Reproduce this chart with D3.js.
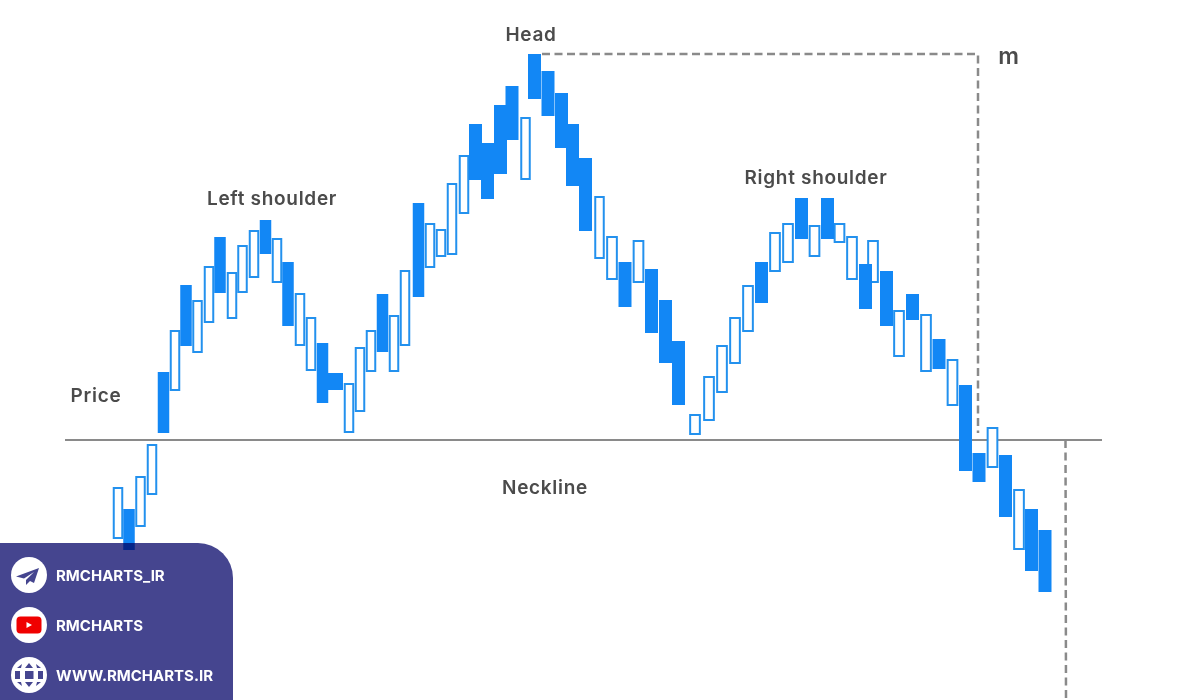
<!DOCTYPE html>
<html>
<head>
<meta charset="utf-8">
<style>
html, body { margin: 0; padding: 0; background: #fff; }
svg { display: block; }
text { font-family: Inter, "Noto Sans", sans-serif; }
</style>
<script src="https://cdn.jsdelivr.net/npm/d3@7"></script>
</head>
<body>
<svg width="1200" height="700"></svg>
<script>
//	DATA, prices are points above the neckline

var sessions = [118, 129, 140.5, 152, 163.5, 175, 186, 197.5, 209, 220, 232, 242.5, 254, 265.5, 277, 288, 300, 311, 322.5, 335.5,
	349, 360, 371, 382.5, 394, 405, 418.5, 430, 441, 452, 464, 475.5, 487.5, 500.5, 512, 525.5, 534.5, 548, 561.5, 572.5,
	585.5, 599.5, 612, 625, 638.5, 651.5, 665.5, 678.5, 695, 709, 722, 735, 748, 761.5, 775, 788, 801.5, 814.5, 827.5, 839.5,
	852, 865.5, 873, 886.5, 899, 912.5, 926, 939, 952.5, 965.5, 979, 992.5, 1005.5, 1019, 1031.5, 1045];

var highs = [-47, -69, -36, -4, 68, 110, 155, 140, 174, 203, 168, 195, 210, 220, 202, 178, 147, 123, 97, 67,
	57, 93, 110, 146, 125, 170, 237, 217, 211, 257, 285, 316, 297, 335, 354, 323, 386, 369, 347, 316,
	282, 244, 204, 178, 200, 171, 140, 99, 26, 64, 95, 123, 155, 178, 208, 217, 242, 215, 242, 217,
	204, 176, 200, 169, 130, 146, 126, 101, 81, 55, -13, 13, -15, -49, -69, -90];

var lows = [-99, -110, -87, -55, 7, 49, 94, 87, 117, 147, 121, 147, 162, 186, 157, 114, 94, 69, 37, 50,
	7, 28, 68, 88, 68, 94, 143, 172, 183, 185, 226, 260, 241, 266, 300, 260, 341, 324, 292, 254,
	209, 181, 160, 133, 157, 107, 77, 35, 5, 19, 47, 76, 108, 137, 168, 177, 201, 183, 201, 197,
	160, 131, 157, 114, 83, 120, 68, 71, 34, -31, -42, -28, -77, -110, -131, -152];

// 1 = filled bar, 0 = hollow bar
var filled = [0, 1, 0, 0, 1, 0, 1, 0, 0, 1, 0, 0, 0, 1, 0, 1, 0, 0, 1, 1,
	0, 0, 0, 1, 0, 0, 1, 0, 0, 0, 0, 1, 1, 1, 1, 0, 1, 1, 1, 1,
	1, 0, 0, 1, 0, 1, 1, 1, 0, 0, 0, 0, 0, 1, 0, 0, 1, 0, 1, 0,
	0, 1, 0, 1, 0, 1, 0, 1, 0, 1, 1, 0, 1, 0, 1, 1];

var necklinePrice = 0;
var headPrice = 386;
var targetSession = 1065.5;

var labels = ["Head", "m", "Left shoulder", "Right shoulder", "Price", "Neckline"];
var labelSessions = [531, 1009, 272, 816, 96, 545];
var labelPrices = [406, 384, 242, 263, 45, -47];

var contacts = ["RMCHARTS_IR", "RMCHARTS", "WWW.RMCHARTS.IR"];

var svg = d3.select("svg");

var x = d3.scaleLinear().domain([0, 1200]).range([0, 1200]);
var y = d3.scaleLinear().domain([-260, 440]).range([700, 0]);

var bars = sessions.map(function(s, i) {
	return { s: s, hi: highs[i], lo: lows[i], solid: filled[i] === 1, i: i };
});

var blue = "#1287f5", gray = "#8a8a8a", ink = "#4b4b4b", panel = "#45458f";

// later bars are drawn a little wider than the early ones
function solidWidth(d) {
	if (d.i === 19) return 15;
	return d.s < 460 ? 11.5 : 13;
}
function hollowWidth(d) {
	return d.s < 600 ? 8.5 : 9.7;
}

//	LINES

svg.append("line")
	.attr("x1", x(65)).attr("x2", x(1102))
	.attr("y1", y(necklinePrice)).attr("y2", y(necklinePrice))
	.attr("stroke", gray).attr("stroke-width", 2);

svg.append("path")
	.attr("d", d3.line()([[x(542), y(headPrice)], [x(978), y(headPrice)], [x(978), y(7)]]))
	.attr("fill", "none").attr("stroke", gray).attr("stroke-width", 2.5)
	.attr("stroke-dasharray", "8 4.5");

svg.append("line")
	.attr("x1", x(targetSession)).attr("x2", x(targetSession + 0.5))
	.attr("y1", y(necklinePrice)).attr("y2", 700)
	.attr("stroke", gray).attr("stroke-width", 2.5)
	.attr("stroke-dasharray", "8 4.5");

//	BARS, hollow first so the filled ones sit on top

svg.selectAll("rect.hollow")
	.data(bars.filter(function(d) { return !d.solid; }))
	.join("rect")
	.attr("class", "hollow")
	.attr("x", function(d) { return x(d.s) - hollowWidth(d) / 2; })
	.attr("width", hollowWidth)
	.attr("y", function(d) { return y(d.hi) + 1; })
	.attr("height", function(d) { return y(d.lo) - y(d.hi) - 2; })
	.attr("fill", "#fff")
	.attr("stroke", "#2391ee")
	.attr("stroke-width", 2);

svg.selectAll("rect.solid")
	.data(bars.filter(function(d) { return d.solid; }))
	.join("rect")
	.attr("class", "solid")
	.attr("x", function(d) { return x(d.s) - solidWidth(d) / 2; })
	.attr("width", solidWidth)
	.attr("y", function(d) { return y(d.hi); })
	.attr("height", function(d) { return y(d.lo) - y(d.hi); })
	.attr("fill", blue);

//	LABELS

svg.selectAll("text.label")
	.data(labels)
	.join("text")
	.attr("class", "label")
	.attr("x", function(d, i) { return x(labelSessions[i]); })
	.attr("y", function(d, i) { return y(labelPrices[i]); })
	.attr("text-anchor", "middle")
	.attr("dominant-baseline", "central")
	.attr("font-size", function(d) { return d === "m" ? 23 : 19; })
	.attr("letter-spacing", 0.7)
	.attr("font-weight", 600)
	.attr("fill", ink)
	.text(function(d) { return d; });

//	CONTACT PANEL

// multiply so the bar under the panel still shows through, darker
svg.append("path")
	.attr("d", "M0,543H198A35,35 0 0 1 233,578V700H0Z")
	.attr("fill", panel)
	.style("mix-blend-mode", "multiply");

var rows = svg.selectAll("g.row")
	.data(contacts)
	.join("g")
	.attr("class", "row")
	.attr("transform", function(d, i) { return "translate(29," + (575 + i * 50) + ")"; });

rows.append("circle").attr("r", 18).attr("fill", "#fff");

rows.append("text")
	.attr("x", 27)
	.attr("dominant-baseline", "central")
	.attr("font-size", 15)
	.attr("font-weight", 700)
	.attr("fill", "#fff")
	.text(function(d) { return d; });

// telegram
d3.select(rows.nodes()[0]).append("path")
	.attr("d", "M10,-7L-13,1.5L-5,3.5L5,-3L-3,5L-3,10L1,6L5,8Z")
	.attr("fill", panel);

// youtube
var yt = d3.select(rows.nodes()[1]);
yt.append("rect").attr("x", -12.5).attr("y", -8.5).attr("width", 25).attr("height", 17).attr("rx", 4).attr("fill", "#f00000");
yt.append("path").attr("d", "M-2.5,-3L3,0L-2.5,3Z").attr("fill", "#fff");

// globe, navy cells on the white disc
d3.select(rows.nodes()[2]).append("path")
	.attr("d", "M-14,-4H-9V4H-14Z M-4,-4H4.5V4H-4Z M9,-4H14V4H9Z"
		+ " M0,-12L4,-7H-4Z M0,12L4,7H-4Z"
		+ " M-7,-11L-8,-7H-12Z M7,-11L8,-7H12Z M-7,11L-8,7H-12Z M7,11L8,7H12Z")
	.attr("fill", panel);
</script>
</body>
</html>
